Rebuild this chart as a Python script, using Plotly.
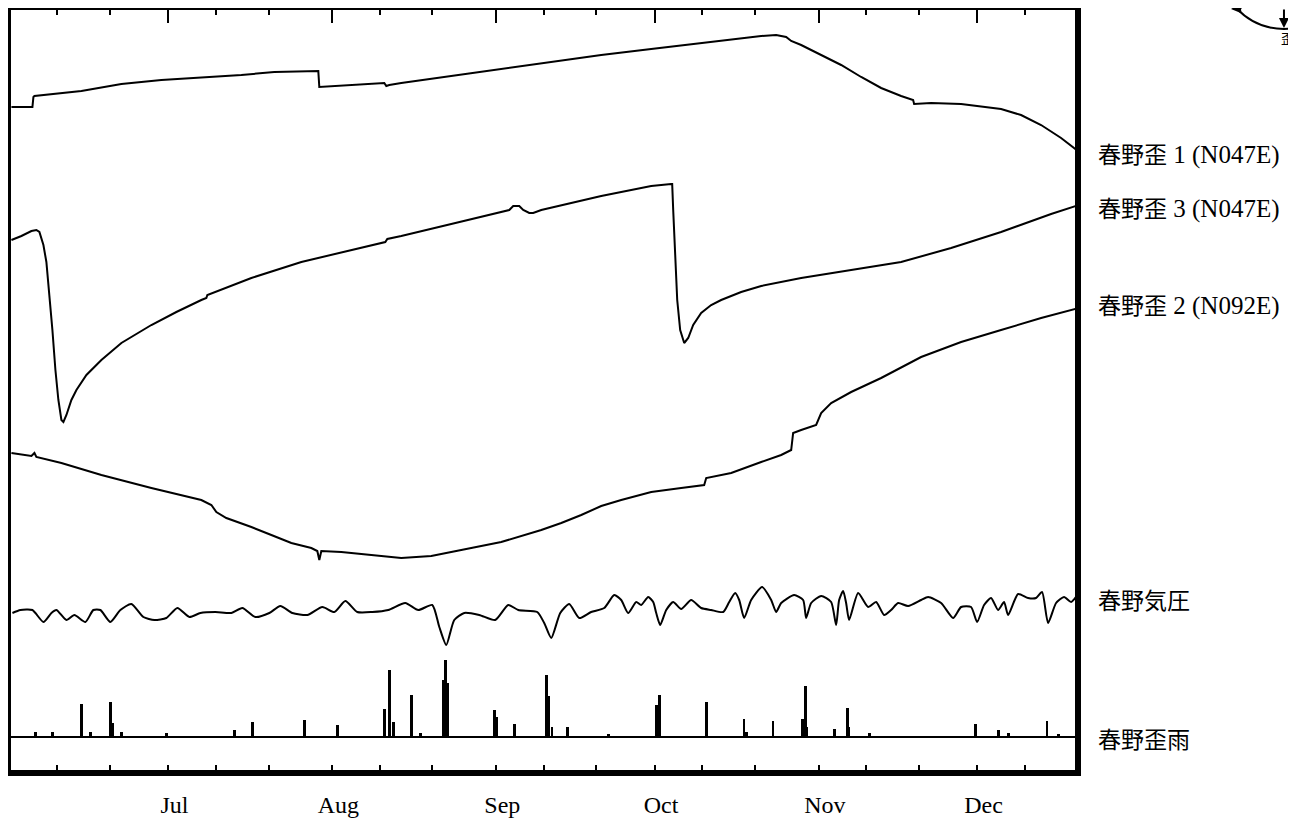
import pandas as pd
import plotly.graph_objects as go

BASE = pd.Timestamp("1997-06-01")


def to_dates(days):
    return [BASE + pd.Timedelta(days=float(d)) for d in days]


# ---- 春野歪1 (N047E): relative strain (arbitrary units), days since 1 Jun
s1_day = [0.38, 4.35, 4.54, 4.73, 13.61, 21.17, 28.73, 38.75, 43.86, 50.09, 58.22, 58.41,
          58.6, 64.65, 70.32, 70.89, 71.27, 71.83, 74.1, 83.55, 93.0, 102.46, 111.91,
          121.36, 130.81, 136.48, 142.16, 144.99, 146.88, 147.83, 148.77, 149.72, 153.5,
          157.28, 161.06, 164.84, 168.62, 170.51, 170.89, 171.08, 174.3, 179.96, 187.52,
          191.3, 195.09, 198.87, 202.27]
s1_val = [0, 0, 10, 11, 16, 23, 27, 30, 32, 35, 36, 36,
          20, 22, 24, 24, 21, 22, 24, 31, 38, 45, 52,
          58, 64, 67, 71, 72, 70, 66, 64, 62, 52,
          42, 30, 19, 11, 7, 7, 3, 4, 3, -2,
          -8, -18, -31, -45]

# ---- 春野歪3 (N047E)
s3_day = [0.38, 2.27, 4.16, 5.1, 5.67, 6.43, 6.99, 7.56, 8.13, 8.7, 9.26, 9.83, 10.21,
          10.78, 11.72, 12.67, 14.56, 17.39, 21.17, 26.84, 31.57, 36.29, 37.24, 37.43,
          45.75, 55.2, 64.65, 71.08, 71.46, 74.1, 83.55, 93.0, 94.52, 95.27, 96.41, 97.16,
          98.3, 99.05, 100.57, 111.91, 121.36, 125.14, 125.33, 125.52, 125.9, 126.28,
          126.84, 127.6, 128.36, 129.3, 130.81, 132.7, 134.59, 138.37, 142.16, 145.94,
          149.72, 159.17, 168.62, 178.07, 187.52, 196.98, 202.27]
s3_val = [0, 4, 9, 10, 8, -5, -22, -55, -90, -130, -160, -180, -182,
          -175, -160, -150, -135, -120, -103, -85, -72, -60, -58, -55,
          -38, -22, -10, -2, 1, 4, 16, 28, 30, 34, 34, 30,
          27, 27, 30, 44, 54, 56, 56, 30, -20, -60,
          -90, -103, -98, -85, -73, -65, -60, -52, -46, -42,
          -38, -30, -22, -8, 8, 26, 35]

# ---- 春野歪2 (N092E)
s2_day = [0.38, 4.16, 4.73, 5.1, 9.83, 17.39, 26.84, 36.29, 38.19, 39.13, 41.02, 45.75,
          49.53, 53.31, 57.09, 58.22, 58.6, 58.98, 62.76, 68.43, 74.1, 79.77, 85.44, 93.0,
          100.57, 104.35, 108.13, 111.91, 115.69, 121.36, 127.03, 131.38, 131.76, 136.48,
          142.16, 145.94, 147.83, 148.2, 149.72, 152.55, 153.5, 155.39, 159.17, 164.84,
          172.4, 179.96, 187.52, 195.09, 202.27]
s2_val = [0, -3, 0, -4, -10, -22, -35, -47, -52, -59, -65, -74,
          -82, -90, -95, -98, -107, -98, -99, -102, -105, -103, -97, -89,
          -77, -70, -62, -53, -47, -39, -35, -32, -25, -20,
          -9, -2, 3, 20, 23, 28, 40, 50, 61, 75,
          96, 111, 123, 135, 145]

# ---- 春野気圧 (hPa)
p_day = [0.57, 2.08, 4.35, 6.43, 7.94, 8.88, 10.78, 12.29, 14.37, 15.88, 17.2, 19.09, 20.98,
         23.06, 25.33, 27.41, 29.68, 31.76, 34.03, 36.11, 38.94, 41.97, 44.05, 46.5, 49.15,
         51.23, 53.5, 56.33, 59.17, 61.44, 63.52, 65.78, 68.62, 71.64, 74.86, 77.32, 79.96,
         81.29, 82.61, 84.12, 86.01, 88.85, 91.87, 94.33, 96.22, 99.81, 101.13, 102.46,
         104.16, 105.86, 107.75, 110.0, 112.48, 114.37, 115.69, 117.01, 118.53, 119.47,
         120.79, 121.74, 122.31, 123.06, 124.2, 125.52, 127.03, 128.92, 130.81, 132.7,
         134.97, 136.11, 137.24, 138.0, 138.94, 140.26, 142.34, 144.05, 144.99, 145.94,
         148.39, 150.09, 150.66, 151.61, 153.5, 155.39, 156.33, 156.9, 157.66, 158.22,
         158.79, 160.49, 162.38, 163.89, 165.41, 166.73, 168.05, 169.94, 172.4, 173.72,
         176.18, 178.45, 179.96, 181.85, 182.99, 184.31, 185.63, 186.96, 188.09, 188.85,
         190.74, 192.63, 194.14, 195.27, 196.41, 197.92, 199.43, 200.76, 202.08]
p_val = [1009.5, 1011, 1011, 1005, 1009.5, 1011, 1006, 1008.5, 1005, 1011, 1011, 1005, 1011,
         1014, 1007.5, 1006, 1007, 1012, 1007.5, 1009.5, 1010, 1009.5, 1012, 1007.5, 1009.5,
         1013, 1009.5, 1008.5, 1012.5, 1010, 1015.5, 1010, 1010, 1011, 1014.5, 1011, 1013.5,
         1002.5, 993.5, 1006, 1009.5, 1008.5, 1006, 1013.5, 1011, 1010, 1004.5, 997,
         1009.5, 1014, 1007, 1010, 1012, 1018.5, 1016, 1009.5, 1015, 1013.5,
         1017.5, 1015, 1009.5, 1003.5, 1011, 1015, 1011.5, 1016, 1012, 1011,
         1010, 1015, 1019.5, 1016, 1007, 1016, 1022.5, 1016, 1010, 1014.5,
         1018.5, 1016, 1007, 1014.5, 1018, 1015, 1003.5, 1016, 1020.5, 1014.5,
         1006, 1019.5, 1012.5, 1015, 1008.5, 1011, 1014.5, 1013, 1016, 1017.5,
         1014.5, 1007, 1012.5, 1012.5, 1005, 1013.5, 1017, 1011, 1015, 1008.5,
         1019, 1017, 1017, 1020, 1004.5, 1014.5, 1017.5, 1015, 1019]

# ---- 春野歪雨 (rain, mm)
r_day = [4.9, 8.1, 13.6, 15.3, 19.1, 19.5, 21.2, 29.7, 42.5, 45.9, 55.8, 62.0, 70.9, 71.8,
         72.6, 76.0, 77.7, 82.0, 82.4, 82.8, 91.7, 92.2, 95.5, 101.5, 101.9, 102.6, 105.5,
         113.2, 122.3, 122.9, 131.9, 138.9, 139.3, 144.4, 149.9, 150.5, 150.7, 156.1,
         158.4, 158.6, 162.6, 182.6, 187.0, 189.0, 196.2, 198.3]
r_val = [2.5, 2.5, 16.5, 2.5, 17.5, 7, 2.5, 2, 3.5, 7.5, 8.5, 6, 14, 33.5,
         7.5, 21, 2, 28.5, 38.5, 27, 13.5, 10, 6.5, 31, 20.5, 5, 5,
         1.5, 16, 21, 17.5, 9, 2.5, 8, 9, 25.5, 5, 4,
         14.5, 5, 2, 6.5, 3.5, 2, 8, 1.5]

# ---- axis ticks
month_starts = ["1997-07-01", "1997-08-01", "1997-09-01", "1997-10-01", "1997-11-01", "1997-12-01"]
month_labels = ["Jul", "Aug", "Sep", "Oct", "Nov", "Dec"]
decade_ticks = ["1997-06-10", "1997-06-20", "1997-07-10", "1997-07-20", "1997-08-10",
                "1997-08-20", "1997-09-10", "1997-09-20", "1997-10-10", "1997-10-20",
                "1997-11-10", "1997-11-20", "1997-12-10"]

SERIF = "font-family:Liberation Serif;font-size:25px"
series_labels = [f"春野歪<span style='{SERIF}'> 1 (N047E)</span>",
                 f"春野歪<span style='{SERIF}'> 3 (N047E)</span>",
                 f"春野歪<span style='{SERIF}'> 2 (N092E)</span>",
                 "春野気圧", "春野歪雨"]

x_range = [BASE + pd.Timedelta(days=0.3), BASE + pd.Timedelta(days=201.5)]
label_dates = [pd.Timestamp(m) + pd.Timedelta(hours=29) for m in month_starts]

line = dict(color="black", width=2)
fig = go.Figure()
fig.add_trace(go.Scatter(x=to_dates(s1_day), y=s1_val, mode="lines", line=line, yaxis="y"))
fig.add_trace(go.Scatter(x=to_dates(s3_day), y=s3_val, mode="lines", line=line, yaxis="y2"))
fig.add_trace(go.Scatter(x=to_dates(s2_day), y=s2_val, mode="lines", line=line, yaxis="y3"))
fig.add_trace(go.Scatter(x=to_dates(p_day), y=p_val, mode="lines", yaxis="y4",
                         line=dict(color="black", width=2, shape="spline", smoothing=0.6)))
fig.add_trace(go.Bar(x=to_dates(r_day), y=r_val, width=0.55 * 86400000,
                     marker=dict(color="black", line=dict(width=0)), yaxis="y5"))
# carrier for the top tick axis
fig.add_trace(go.Scatter(x=[x_range[0]], y=[None], xaxis="x2", yaxis="y", mode="lines",
                         hoverinfo="skip"))

hidden = dict(overlaying="y", visible=False, fixedrange=True)
fig.update_layout(
    width=1288, height=813,
    margin=dict(l=3, r=221, t=2, b=51, autoexpand=False),
    paper_bgcolor="white", plot_bgcolor="white",
    showlegend=False,
    bargap=0,
    xaxis=dict(
        type="date", range=x_range, automargin=False,
        showline=True, linecolor="black", linewidth=6, mirror=True,
        showgrid=False, zeroline=False,
        tickmode="array", tickvals=label_dates, ticktext=month_labels, ticks="",
        tickfont=dict(family="Liberation Serif", size=24, color="black"),
        ticklabelstandoff=8,
        minor=dict(tickmode="array", tickvals=decade_ticks + month_starts,
                   ticks="inside", ticklen=5, tickwidth=2, tickcolor="black", showgrid=False),
    ),
    xaxis2=dict(
        type="date", range=x_range, overlaying="x", side="top", automargin=False,
        showline=False, showgrid=False, zeroline=False, showticklabels=False,
        tickmode="array", tickvals=month_starts, ticks="inside", ticklen=13,
        tickwidth=2, tickcolor="black",
        minor=dict(tickmode="array", tickvals=decade_ticks, ticks="inside", ticklen=5,
                   tickwidth=2, tickcolor="black", showgrid=False),
    ),
    yaxis=dict(range=[-663, 97], showline=True, linecolor="black", linewidth=6, mirror=True,
               automargin=False, showgrid=False, zeroline=False, showticklabels=False,
               ticks="", fixedrange=True),
    yaxis2=dict(range=[-530, 230], **hidden),
    yaxis3=dict(range=[-317, 443], **hidden),
    yaxis4=dict(range=[931, 1311], **hidden),
    yaxis5=dict(range=[-16.5, 363.5], overlaying="y", showgrid=False, showline=False,
                automargin=False, showticklabels=False, ticks="", zeroline=True,
                zerolinecolor="black", zerolinewidth=2, fixedrange=True),
)

label_y = [0.8118, 0.7408, 0.6131, 0.2250, 0.0421]
for txt, yy in zip(series_labels, label_y):
    fig.add_annotation(x=1.0196, y=yy, xref="paper", yref="paper", text=txt,
                       showarrow=False, xanchor="left", yanchor="middle",
                       font=dict(family="Noto Sans CJK JP", size=23, color="black"))

# fragment of the orientation diagram at the top right
fig.add_shape(type="path", xref="paper", yref="paper",
              path="M 1.1438 1.0158 Q 1.1645 0.9750 1.1964 0.9750 L 1.2077 0.9763",
              line=dict(color="black", width=2))
fig.add_annotation(x=1.1964, y=0.9763, xref="paper", yref="paper", text="", showarrow=True,
                   ax=0, ay=-32, arrowhead=2, arrowsize=1, arrowwidth=2, arrowcolor="black")
fig.add_annotation(x=1.1466, y=1.0079, xref="paper", yref="paper", text="", showarrow=True,
                   ax=12, ay=-10, arrowhead=2, arrowsize=1, arrowwidth=2, arrowcolor="black")
fig.add_annotation(x=1.2, y=0.9632, xref="paper", yref="paper", text="歪", showarrow=False,
                   xanchor="center", yanchor="middle",
                   font=dict(family="Noto Sans CJK JP", size=13, color="black"))

fig.write_html("out.html")
